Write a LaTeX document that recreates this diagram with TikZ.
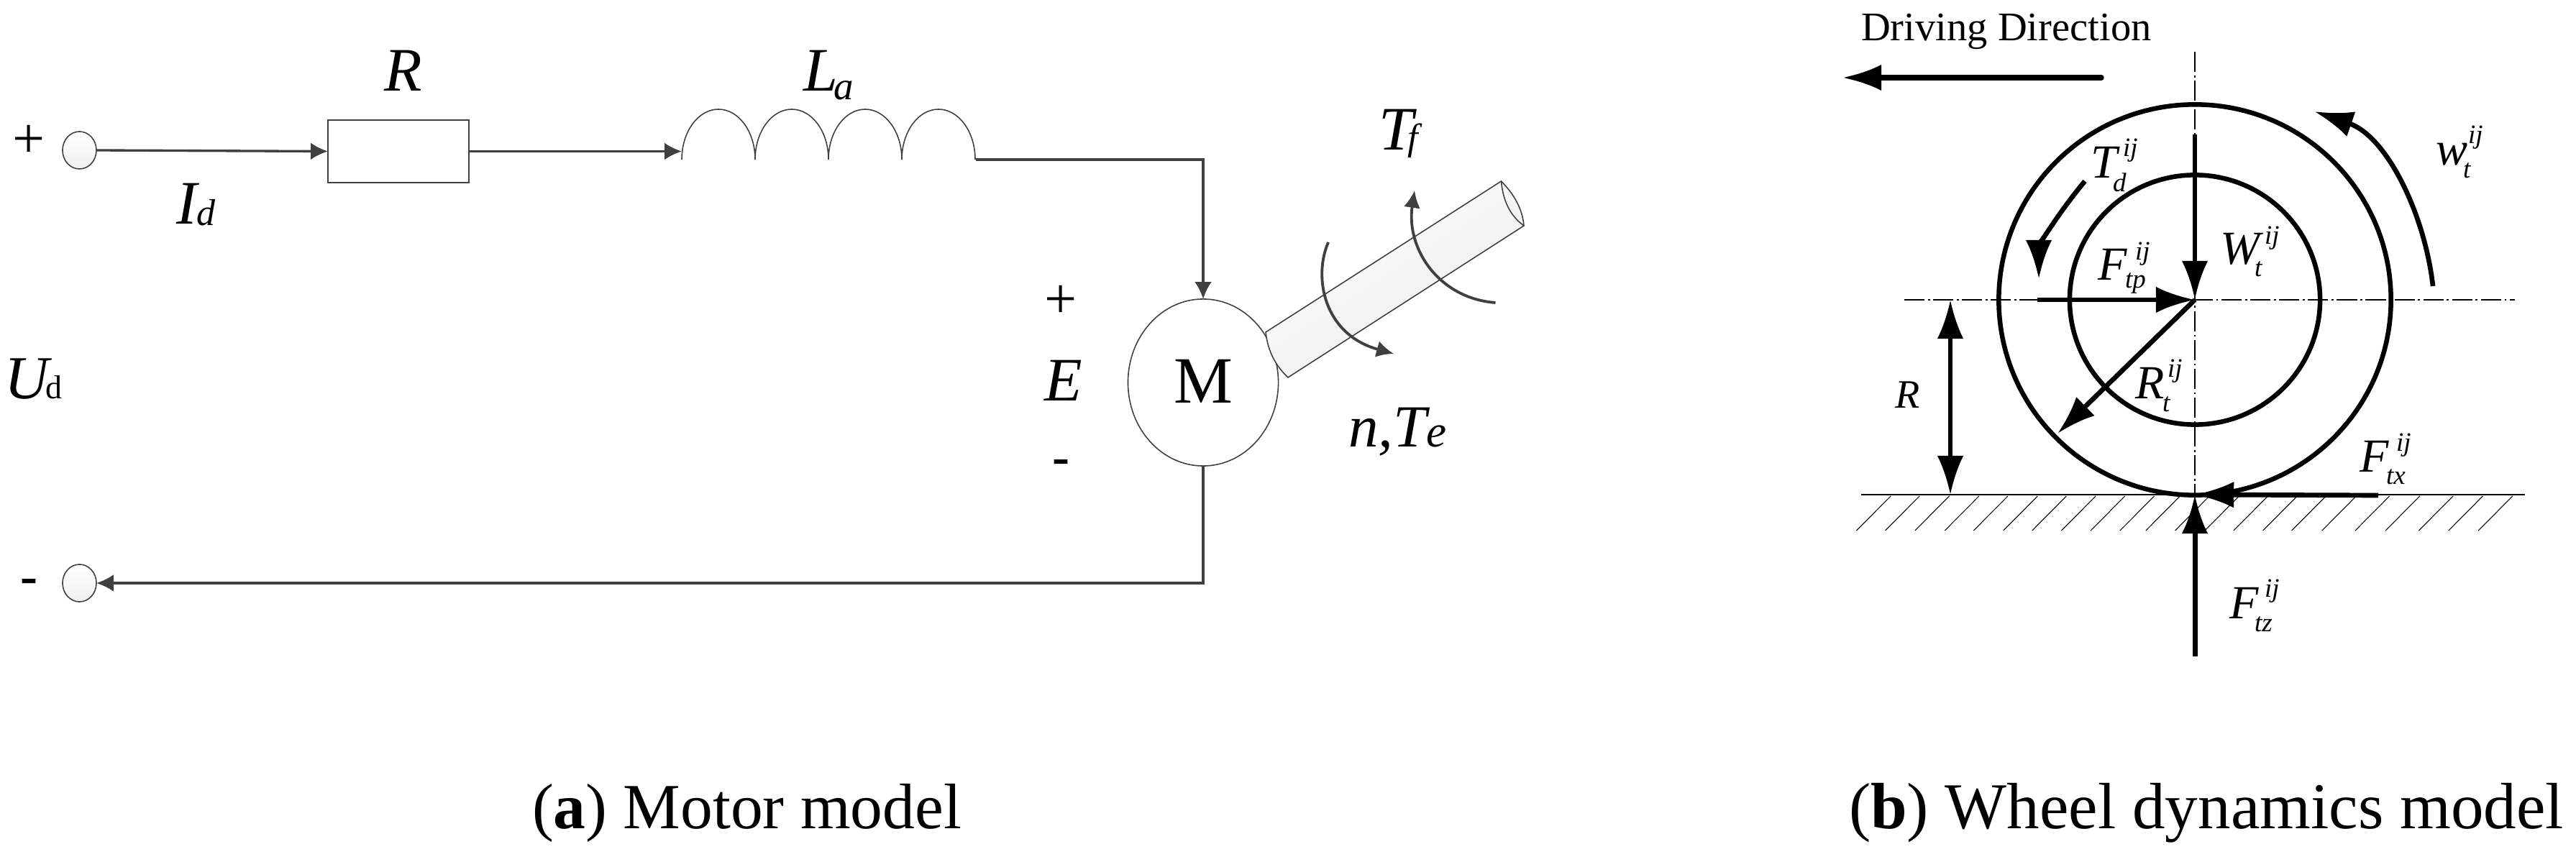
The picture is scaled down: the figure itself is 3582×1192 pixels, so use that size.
\documentclass[tikz,border=0pt]{standalone}
\usepackage{fontspec}
\setmainfont{Liberation Serif}
\usetikzlibrary{arrows.meta,shapes.geometric}
\newdimen\pxu \pxu=0.2845pt
\newcommand\fpx[1]{\dimen0=#1\pxu \fontsize{\the\dimen0}{\the\dimen0}\selectfont}
% base letter, subscript, sup x, sup raise, sub x, sub drop
\newcommand\Lab[6]{\rlap{\hspace*{#3\pxu}\raisebox{#4\pxu}{\fpx{37}\itshape ij}}\rlap{\hspace*{#5\pxu}\raisebox{-#6\pxu}{\fpx{37}\itshape #2}}{\fpx{66}\itshape #1}}
\definecolor{wire}{HTML}{404040}
\tikzset{
  x=0.01cm,y=-0.01cm,
  lbl/.style={anchor=base west,inner sep=0pt,outer sep=0pt,text=black},
  wireline/.style={draw=wire,line width=0.95pt},
  outline/.style={draw=wire,line width=0.45pt},
  smalltip/.style={-{Latex[length=6.8pt,width=6.8pt]}},
  torque/.style={draw=wire,line width=1.1pt,-{Latex[length=6.8pt,width=6.6pt]}},
  force/.style={draw=black,line width=1.9pt,-{Latex[length=15.4pt,width=10.4pt]}},
  forcetwo/.style={draw=black,line width=1.6pt,{Latex[length=15.4pt,width=10.4pt]}-{Latex[length=15.4pt,width=10.4pt]}},
  rim/.style={ellipse,draw=black,line width=1.85pt,inner sep=0pt,outer sep=0pt},
  axisline/.style={draw=black,line width=0.35pt,dash pattern=on 8pt off 1.3pt on 0.8pt off 1.3pt},
  hatchline/.style={draw=black,line width=0.3pt},
  terminal/.style={ellipse,outline,top color=white,bottom color=black!6,inner sep=0pt,outer sep=0pt,minimum width=0.47cm},
}
\begin{document}
\begin{tikzpicture}
\useasboundingbox (0,0) rectangle (3582,1192);
% ---------- (a) motor model
\node[terminal,minimum height=0.52cm] (tplus) at (110.5,209) {};
\node[terminal,minimum height=0.52cm] (tminus) at (110.5,811) {};
\node[outline,rectangle,inner sep=0pt,outer sep=0pt,minimum width=1.96cm,minimum height=0.87cm] (res) at (554,210.5) {};
\coordinate (indin) at (948,210.5);
\coordinate (indout) at (1357,222);
\draw[outline] (948,222) \foreach \x in {948,1050,1152,1254}{ .. controls (\x,183) and ({\x+23},152) .. ({\x+51},152) .. controls ({\x+79},152) and ({\x+102},183) .. ({\x+102},222)};
\node[ellipse,outline,inner sep=0pt,outer sep=0pt,minimum width=2.09cm,minimum height=2.32cm,font=\fpx{92}] (motor) at (1673,532) {\raisebox{4\pxu}{M}};
\draw[wireline,smalltip] (tplus.east) -- (res.west);
\draw[wireline,smalltip] (res.east) -- (indin);
\draw[wireline,smalltip] (indout) -| (motor.north);
\draw[wireline,smalltip] (motor.south) |- (tminus.east);
% shaft
\path[outline,top color=white,bottom color=black!8,shading angle=33] (1760,462) -- (2087.5,252) .. controls (2105,270) and (2117,290) .. (2119,314) -- (1791,525) .. controls (1775,510) and (1763,490) .. cycle;
\draw[outline] (2087.5,252) .. controls (2090,280) and (2100,300) .. (2119,314);
\coordinate (nstart) at (1847,337);
\coordinate (nend) at (1938,492);
\coordinate (fstart) at (2079.5,421);
\coordinate (fend) at (1967,265);
\draw[torque] (nstart) .. controls (1826,385) and (1840,465) .. (nend);
\draw[torque] (fstart) .. controls (2000,415) and (1955,345) .. (fend);
% circuit labels
\node[lbl] (lplus) at (17.5,220) {\fpx{80}+};
\node[lbl] (lminus) at (28,826) {\fpx{72}\bfseries -};
\node[lbl] (lU) at (7,555) {\fpx{85}\itshape U\hspace*{-5\pxu}\fpx{46}\upshape d};
\node[lbl] (lI) at (245,312) {\fpx{86}\itshape I\raisebox{-2\pxu}{\fpx{52}d}};
\node[lbl] (lR) at (534,127) {\fpx{86}\itshape R};
\node[lbl] (lL) at (1117,127) {\fpx{86}\itshape L\hspace*{-5\pxu}\raisebox{-12\pxu}{\fpx{55}a}};
\node[lbl] (lT) at (1917,209) {\fpx{86}\itshape T\hspace*{-7\pxu}\fpx{52}f};
\node[lbl] (lN) at (1875,622) {\fpx{83}\itshape n,T\fpx{63}e};
\node[lbl] (lEp) at (1452,443) {\fpx{80}+};
\node[lbl] (lE) at (1452,558) {\fpx{86}\itshape E};
\node[lbl] (lEm) at (1463,660) {\fpx{72}\bfseries -};
\node[lbl] (capa) at (740,1152) {\fpx{89.5}(\textbf{a}) Motor model};
% ---------- (b) wheel dynamics
\coordinate (wc) at (3052,417);
\node[rim,minimum width=5.45cm,minimum height=5.43cm] (outer) at (wc) {};
\node[rim,minimum width=3.48cm,minimum height=3.47cm] (inner) at (wc) {};
\coordinate (axl) at (2648,417);
\coordinate (axr) at (3497,417);
\coordinate (axt) at (3052,72);
\coordinate (gl) at (2588,688);
\coordinate (gr) at (3511,688);
\coordinate (gc) at (3052,688);
\draw[axisline] (axl) -- (axr);
\draw[axisline] (axt) -- (gc);
\draw[draw=black,line width=0.55pt] (gl) -- (gr);
\foreach \b in {118,176,236,296,354,414,472,531,590,649,701,760,820,878,937,995,1056,1123,1184,1251,1311,1371}
  \draw[hatchline] ({2500+\b/1.449},738) -- ({2500+(\b+69)/1.449},690);
\coordinate (dstart) at (2922,108);
\coordinate (dend) at (2562,108);
\draw[force,line cap=round,line width=2.1pt] (dstart) -- (dend);
\coordinate (wstart) at (3052,187);
\draw[force] (wstart) -- (wc);
\coordinate (pstart) at (2833,417);
\draw[force] (pstart) -- (wc);
\coordinate (rend) at (2861,603);
\draw[force] (wc) -- (rend);
\coordinate (xstart) at (3307,689);
\draw[force] (xstart) -- (gc);
\coordinate (zstart) at (3052,913);
\draw[force,line width=2pt] (zstart) -- (gc);
\coordinate (hrt) at (2712,417);
\coordinate (hrb) at (2712,688);
\draw[forcetwo] (hrt) -- (hrb);
\coordinate (omstart) at (3383,398);
\coordinate (omend) at (3218,155);
\draw[force] (omstart) .. controls (3372,300) and (3320,190) .. (omend);
\coordinate (tdstart) at (2899,252);
\coordinate (tdend) at (2835,388);
\draw[force] (tdstart) .. controls (2855,305) and (2835,345) .. (tdend);
% wheel labels
\node[lbl] (ldrive) at (2588,57) {\fpx{56.5}Driving Direction};
\node[lbl] (lTd) at (2907,248) {\Lab{T}{d}{45}{30}{31}{19}};
\node[lbl] (lFtp) at (2917,390) {\Lab{F}{tp}{52}{28}{38}{11}};
\node[lbl] (lWt) at (3087,368) {\Lab{W}{t}{62}{28}{48}{17}};
\node[lbl] (lwt) at (3387,230) {\Lab{w}{t}{45}{30}{38}{18}};
\node[lbl] (lRt) at (2969,555) {\Lab{R}{t}{45}{30}{38}{17}};
\node[lbl] (lFtx) at (3281,657) {\Lab{F}{tx}{51}{29}{37}{16}};
\node[lbl] (lFtz) at (3100,860) {\Lab{F}{tz}{49}{29}{35}{18}};
\node[lbl] (lRw) at (2635,568) {\fpx{56}\itshape R};
\node[lbl] (capb) at (2571,1152) {\fpx{91}(\textbf{b}) Wheel dynamics model};
\end{tikzpicture}
\end{document}
